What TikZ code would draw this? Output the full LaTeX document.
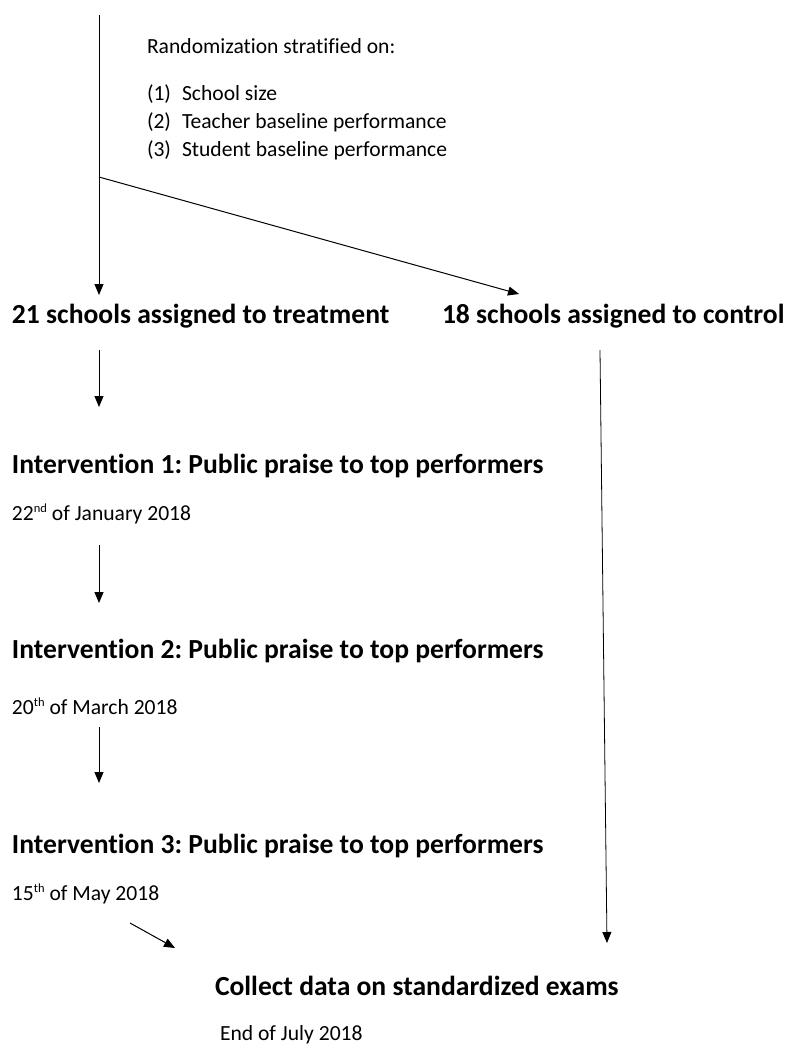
\documentclass[tikz,border=0pt]{standalone}
\usepackage{fontspec}
\setmainfont{Carlito}[Ligatures={NoCommon,NoRequired,NoContextual}]
\usetikzlibrary{arrows.meta}
\newcommand{\ordsup}[1]{\raisebox{7.5pt}{\fontsize{12.5}{12.5}\selectfont #1}}
\frenchspacing
\begin{document}
\begin{tikzpicture}[x=1pt,y=-1pt,
  every node/.style={inner sep=0pt, outer sep=0pt, anchor=base west},
  head/.style={font=\fontsize{27.6}{33}\selectfont\bfseries},
  note/.style={font=\fontsize{21.6}{28}\selectfont},
  arr/.style={line width=1pt, -{Triangle[length=11pt,width=9pt]}},
  thinarr/.style={line width=0.8pt, -{Triangle[length=11pt,width=9pt]}}]
\useasboundingbox (0,0) rectangle (788,1045);

% stratification note
\node[note] (strat) at (147,53) {Randomization stratified on:};
\node[note] (k1) at (147,100) {(1)};
\node[note] (s1) at (182,100) {School size};
\node[note] (k2) at (147,128) {(2)};
\node[note] (s2) at (182,128) {Teacher baseline performance};
\node[note] (k3) at (147,156) {(3)};
\node[note] (s3) at (182,156) {Student baseline performance};

% arms
\node[head] (treat) at (12,323) {21 schools assigned to treatment};
\node[head] (ctrl) at (442,323) {18 schools assigned to control};

% interventions
\node[head] (int1) at (12,473) {Intervention 1: Public praise to top performers};
\node[note] (d1) at (12,520) {22\ordsup{nd} of January 2018};
\node[head] (int2) at (12,658) {Intervention 2: Public praise to top performers};
\node[note] (d2) at (12,714) {20\ordsup{th} of March 2018};
\node[head] (int3) at (12,853) {Intervention 3: Public praise to top performers};
\node[note] (d3) at (12,900) {15\ordsup{th} of May 2018};

% outcome
\node[head] (collect) at (215,995) {Collect data on standardized exams};
\node[note] (dend) at (220,1040) {End of July 2018};

% connector end points
\coordinate (top) at (99,15);
\coordinate (split) at (99,177);
\coordinate (treatIn) at (99,295);
\coordinate (ctrlIn) at (519,294);
\coordinate (treatOut) at (99,350);
\coordinate (int1In) at (99,407);
\coordinate (int1Out) at (99,545);
\coordinate (int2In) at (99,603);
\coordinate (int2Out) at (99,727);
\coordinate (int3In) at (99,783);
\coordinate (int3Out) at (130,923);
\coordinate (collectInA) at (175,948);
\coordinate (ctrlOut) at (600,350);
\coordinate (collectInB) at (607,943);

% connectors
\draw[arr] (top) -- (treatIn);
\draw[arr] (split) -- (ctrlIn);
\draw[arr] (treatOut) -- (int1In);
\draw[arr] (int1Out) -- (int2In);
\draw[arr] (int2Out) -- (int3In);
\draw[arr] (int3Out) -- (collectInA);
\draw[thinarr] (ctrlOut) -- (collectInB);
\end{tikzpicture}
\end{document}
